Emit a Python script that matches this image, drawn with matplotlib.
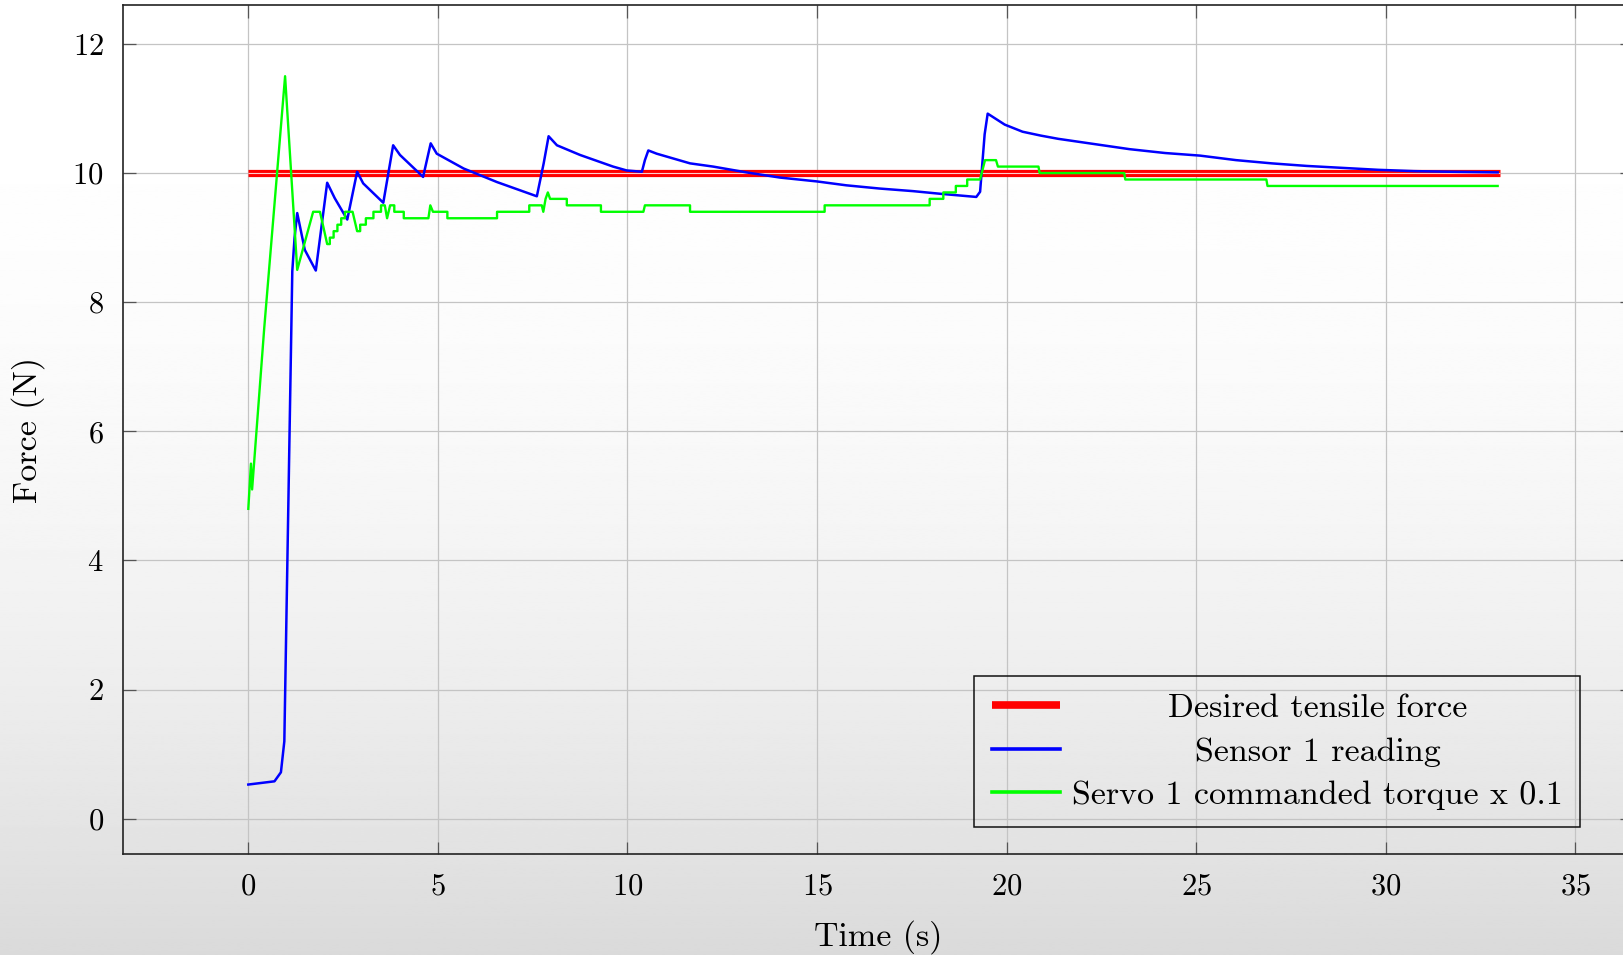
import numpy as np
import matplotlib
matplotlib.use("Agg")
import matplotlib.pyplot as plt

plt.rcParams["font.family"] = "cmr10"
plt.rcParams["mathtext.fontset"] = "cm"
plt.rcParams["axes.formatter.use_mathtext"] = True

# desired force
time_desired = [0, 33]
force_desired = [10, 10]

# sensor 1 reading
time_sensor = [0, 0.69, 0.86, 0.95, 1.01, 1.09, 1.16, 1.22, 1.29, 1.49, 1.78,
               2.08, 2.28, 2.61, 2.87, 3.03, 3.56, 3.82, 4.0, 4.61, 4.81, 4.97,
               5.68, 6.56, 7.61, 7.79, 7.92, 8.14, 8.75, 9.62, 9.98, 10.38,
               10.46, 10.55, 10.77, 11.65, 12.26, 13.14, 14.02, 15.0, 15.77,
               16.65, 17.53, 18.23, 19.2, 19.3, 19.42, 19.5, 19.58, 19.95,
               20.42, 20.9, 21.36, 22.3, 23.24, 24.18, 25.1, 26.05, 26.99,
               27.92, 28.86, 29.8, 30.74, 31.7, 32.95]
force_sensor = [0.53, 0.58, 0.72, 1.2, 3.28, 6.05, 8.48, 9.0, 9.38, 8.81, 8.49,
                9.85, 9.61, 9.28, 10.02, 9.84, 9.54, 10.43, 10.28, 9.94, 10.46,
                10.3, 10.07, 9.86, 9.64, 10.15, 10.57, 10.43, 10.28, 10.1,
                10.04, 10.02, 10.2, 10.35, 10.3, 10.15, 10.1, 10.01, 9.93,
                9.87, 9.81, 9.76, 9.72, 9.68, 9.63, 9.71, 10.6, 10.92, 10.89,
                10.75, 10.64, 10.58, 10.53, 10.45, 10.37, 10.31, 10.27, 10.2,
                10.15, 10.11, 10.08, 10.05, 10.03, 10.02, 10.01]

# servo 1 commanded torque x 0.1
time_servo = [0, 0.07, 0.1, 0.42, 0.97, 1.29, 1.71, 1.89, 2.08, 2.15, 2.15,
              2.25, 2.25, 2.35, 2.35, 2.45, 2.45, 2.55, 2.55, 2.75, 2.87,
              2.95, 2.95, 3.1, 3.1, 3.3, 3.3, 3.5, 3.5, 3.6, 3.66, 3.74, 3.85,
              3.85, 4.1, 4.1, 4.75, 4.8, 4.87, 5.25, 5.25, 6.56, 6.56, 7.41,
              7.41, 7.74, 7.78, 7.84, 7.9, 7.96, 8.4, 8.4, 9.3, 9.3, 10.42,
              10.46, 11.65, 11.65, 15.2, 15.2, 17.97, 17.97, 18.33, 18.33,
              18.66, 18.66, 18.96, 18.96, 19.3, 19.43, 19.72, 19.77, 20.84,
              20.87, 23.1, 23.13, 26.85, 26.88, 32.95]
torque_servo = [4.8, 5.5, 5.1, 7.6, 11.5, 8.5, 9.4, 9.4, 8.9, 8.9, 9.0,
                9.0, 9.1, 9.1, 9.2, 9.2, 9.3, 9.3, 9.4, 9.4, 9.1,
                9.1, 9.2, 9.2, 9.3, 9.3, 9.4, 9.4, 9.5, 9.5, 9.3, 9.5, 9.5,
                9.4, 9.4, 9.3, 9.3, 9.5, 9.4, 9.4, 9.3, 9.3, 9.4, 9.4,
                9.5, 9.5, 9.4, 9.6, 9.7, 9.6, 9.6, 9.5, 9.5, 9.4, 9.4,
                9.5, 9.5, 9.4, 9.4, 9.5, 9.5, 9.6, 9.6, 9.7,
                9.7, 9.8, 9.8, 9.9, 9.9, 10.2, 10.2, 10.1, 10.1,
                10.0, 10.0, 9.9, 9.9, 9.8, 9.8]

x_ticks = [0, 5, 10, 15, 20, 25, 30, 35]
y_ticks = [0, 2, 4, 6, 8, 10, 12]
labels = ["Desired tensile force", "Sensor 1 reading",
          "Servo 1 commanded torque x 0.1"]

fig = plt.figure(figsize=(16.23, 9.55), dpi=100)

# grey vertical gradient behind everything
bg = fig.add_axes([0, 0, 1, 1])
f = np.linspace(0, 1, 400)[:, None]
grad = 1 - 0.145 * f ** 2.2
bg.imshow(np.repeat(grad, 2, axis=1), aspect="auto", cmap="gray",
          vmin=0, vmax=1, extent=[0, 1, 0, 1])
bg.axis("off")

ax = fig.add_axes([0.0759, 0.1058, 0.9298, 0.8888])
ax.set_facecolor("none")

ax.plot(time_desired, force_desired, color="#ff0000", lw=5.2,
        solid_capstyle="butt", label=labels[0], zorder=3)
ax.plot(time_desired, force_desired, color="#ffcccc", lw=0.8,
        solid_capstyle="butt", zorder=3.1)
ax.plot(time_sensor, force_sensor, color="#0000ff", lw=1.8,
        label=labels[1], zorder=4)
ax.plot(time_servo, torque_servo, color="#00ff00", lw=1.7,
        label=labels[2], zorder=5)

ax.set_xlim(-3.3, 36.5)
ax.set_ylim(-0.545, 12.6)
ax.set_xticks(x_ticks)
ax.set_yticks(y_ticks)
ax.grid(True, color="#c4c4c4", lw=0.9)
ax.set_axisbelow(True)
ax.tick_params(direction="in", length=9, width=0.9, color="#555555",
               labelsize=22, pad=14, top=True, right=True)
for s in ax.spines.values():
    s.set_linewidth(1.2)
    s.set_color("#222222")

ax.set_xlabel("Time (s)", fontsize=24.5, labelpad=14)
ax.set_ylabel("Force (N)", fontsize=24.5, labelpad=20)

leg = ax.legend(loc="lower right", bbox_to_anchor=(0.9654, 0.0318),
                borderaxespad=0, fontsize=24.5, fancybox=False,
                framealpha=1, facecolor="none", edgecolor="#111111",
                handlelength=2.0, handletextpad=0.37, labelspacing=0.4,
                borderpad=0.5)
leg.get_frame().set_linewidth(1.1)
leg.legend_handles[0].set_linewidth(5.5)
leg.legend_handles[1].set_linewidth(2.6)
leg.legend_handles[2].set_linewidth(2.6)

# centre the legend texts like pgfplots does
renderer = fig.canvas.get_renderer()
rows = [hp for col in leg._legend_handle_box.get_children()
        for hp in col.get_children()]
widths = [hp.get_children()[1].get_bbox(renderer).width for hp in rows]
for hp, w in zip(rows, widths):
    hp.sep += (max(widths) - w) / 2 * 72 / fig.dpi

fig.savefig("out.png", dpi=100)
